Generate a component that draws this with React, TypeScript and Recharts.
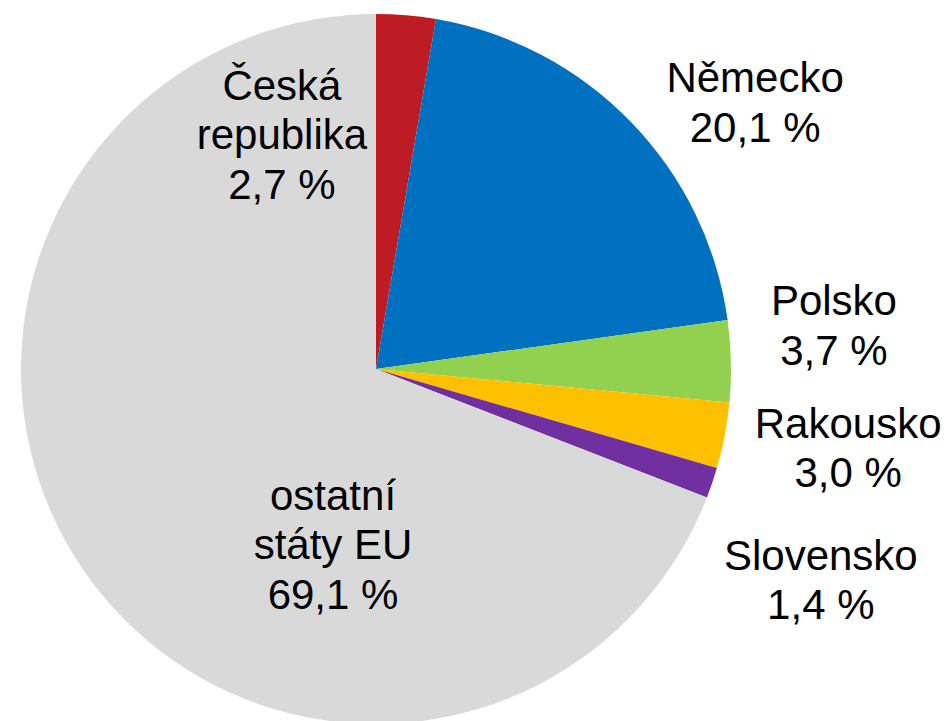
import React from "react";
import { PieChart, Pie, Cell } from "recharts";

const countries = ["Česká republika", "Německo", "Polsko", "Rakousko", "Slovensko", "ostatní státy EU"];
const shares = [2.7, 20.1, 3.7, 3.0, 1.4, 69.1];
const labelLines = [
  ["Česká", "republika"],
  ["Německo"],
  ["Polsko"],
  ["Rakousko"],
  ["Slovensko"],
  ["ostatní", "státy EU"],
];
const colors = ["#BE1C24", "#0070C0", "#92D050", "#FFC000", "#7030A0", "#D9D9D9"];

// label anchor (first baseline) offsets from pie centre, in units of outer radius
const labelOffsets = [
  [-0.265, -0.758],
  [1.068, -0.78],
  [1.29, -0.152],
  [1.33, 0.194],
  [1.253, 0.566],
  [-0.121, 0.397],
];

const data = countries.map((name, i) => ({ name, value: shares[i] }));

const fmt = (v: number) => v.toFixed(1).replace(".", ",") + " %";

const renderLabel = (props: any) => {
  const { cx, cy, outerRadius, index, value } = props;
  const [fx, fy] = labelOffsets[index];
  const x = cx + fx * outerRadius;
  const y = cy + fy * outerRadius;
  const lines = [...labelLines[index], fmt(value)];
  return (
    <text
      x={x}
      y={y}
      textAnchor="middle"
      fill="#000"
      fontSize={42}
      fontFamily="'Liberation Sans', Arial, sans-serif"
    >
      {lines.map((l, i) => (
        <tspan key={i} x={x} dy={i === 0 ? 0 : 49.5}>
          {l}
        </tspan>
      ))}
    </text>
  );
};

export default function App() {
  return (
    <div style={{ position: "absolute", left: 0, top: 0, width: 948, height: 721, background: "#fff" }}>
      <PieChart width={948} height={721} margin={{ top: 0, right: 0, bottom: 0, left: 0 }}>
        <Pie
          data={data}
          dataKey="value"
          nameKey="name"
          cx={376}
          cy={369}
          outerRadius={355}
          startAngle={90}
          endAngle={-270}
          stroke="none"
          label={renderLabel}
          labelLine={false}
          isAnimationActive={false}
        >
          {data.map((d, i) => (
            <Cell key={d.name} fill={colors[i]} />
          ))}
        </Pie>
      </PieChart>
    </div>
  );
}
